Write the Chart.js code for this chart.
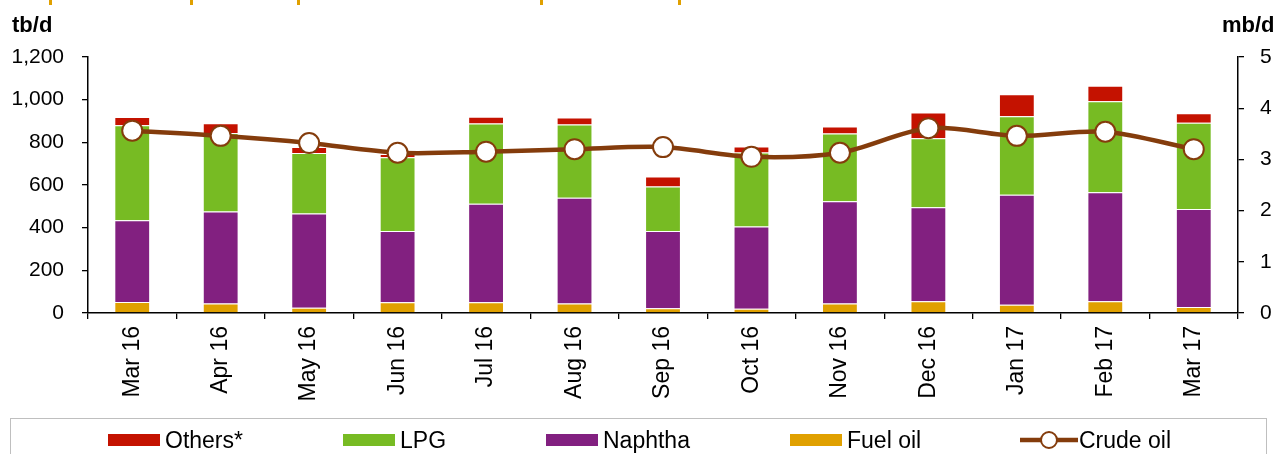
<!DOCTYPE html>
<html>
<head>
<meta charset="utf-8">
<script src="https://cdn.jsdelivr.net/npm/chart.js@4.4.1/dist/chart.umd.min.js"></script>
<style>
  html, body { margin:0; padding:0; background:#fff; }
  #wrap { position:relative; width:1279px; height:454px; overflow:hidden; font-family:"Liberation Sans", Arial, sans-serif; }
  canvas { position:absolute; left:0; top:0; }
  .unit { position:absolute; font-weight:bold; font-size:22px; color:#000; line-height:22px; }
  .topmark { position:absolute; top:0; width:3px; height:5px; background:#E0A000; }
  #legend { position:absolute; left:10px; top:418px; width:1257px; height:60px; border:1px solid #BFBFBF; box-sizing:border-box; }
  .li { position:absolute; top:8px; height:26px; font-size:23px; line-height:26px; color:#000; white-space:nowrap; }
  .sw { position:absolute; top:7px; width:52px; height:12px; }
  .lt { position:absolute; top:0; }
</style>
</head>
<body>
<div id="wrap">
  <canvas id="c" width="1279" height="454"></canvas>
  <div class="unit" style="left:12px; top:14px;">tb/d</div>
  <div class="unit" style="left:1222px; top:14px;">mb/d</div>
  <div class="topmark" style="left:49px"></div>
  <div class="topmark" style="left:190px"></div>
  <div class="topmark" style="left:297px"></div>
  <div class="topmark" style="left:540px"></div>
  <div class="topmark" style="left:678px"></div>
  <div id="legend"></div>
</div>
<script>
// ---- data ----
const categories = ["Mar 16","Apr 16","May 16","Jun 16","Jul 16","Aug 16","Sep 16","Oct 16","Nov 16","Dec 16","Jan 17","Feb 17","Mar 17"];
const fuelOil  = [51, 44, 25, 50, 50, 44, 22, 20, 44, 55, 39, 55, 28];
const naphtha  = [384, 432, 441, 334, 462, 496, 362, 386, 480, 441, 515, 511, 460];
const lpg      = [445, 368, 284, 346, 376, 344, 209, 346, 317, 323, 368, 426, 404];
const others   = [39, 45, 28, 15, 32, 32, 47, 28, 33, 121, 103, 73, 44];
const crudeOil = [3.56, 3.46, 3.32, 3.13, 3.15, 3.20, 3.24, 3.05, 3.13, 3.61, 3.46, 3.54, 3.20];
const leftTicks  = [0, 200, 400, 600, 800, 1000, 1200];
const rightTicks = [0, 1, 2, 3, 4, 5];
const seriesNames = ["Others*", "LPG", "Naphtha", "Fuel oil", "Crude oil"];

const COL = { others:"#C41200", lpg:"#77BB23", naphtha:"#822080", fuel:"#E0A000", crude:"#843C0C" };
const FONT = "'Liberation Sans', Arial, sans-serif";

const barCommon = { stack:"s", yAxisID:"y", barPercentage:0.405, categoryPercentage:1.0, borderWidth:1, borderColor:"rgba(255,255,255,0.45)", order:2 };

new Chart(document.getElementById("c"), {
  data: {
    labels: categories,
    datasets: [
      Object.assign({ type:"bar", label:seriesNames[3], data:fuelOil, backgroundColor:COL.fuel }, barCommon),
      Object.assign({ type:"bar", label:seriesNames[2], data:naphtha, backgroundColor:COL.naphtha }, barCommon),
      Object.assign({ type:"bar", label:seriesNames[1], data:lpg, backgroundColor:COL.lpg }, barCommon),
      Object.assign({ type:"bar", label:seriesNames[0], data:others, backgroundColor:COL.others }, barCommon),
      { type:"line", label:seriesNames[4], data:crudeOil, yAxisID:"y1", order:0,
        borderColor:COL.crude, borderWidth:4.5, tension:0.3,
        pointRadius:10, pointBorderWidth:2, pointBackgroundColor:"#fff", pointBorderColor:COL.crude }
    ]
  },
  options: {
    responsive:false, animation:false,
    layout:{ padding:{ top:57, left:0, right:0, bottom:0 } },
    plugins:{ legend:{ display:false }, tooltip:{ enabled:false } },
    scales:{
      x:{
        stacked:true,
        grid:{ display:true, drawOnChartArea:false, drawTicks:true, tickLength:6, offset:true, color:"#000", lineWidth:1.3 },
        border:{ display:true, color:"#000", width:1.5 },
        ticks:{ autoSkip:false, maxRotation:90, minRotation:90, padding:7, color:"#000", font:{ family:FONT, size:23 } },
        afterFit:(s)=>{ s.height = 141; }
      },
      y:{
        position:"left", stacked:true, min:0, max:1200,
        afterBuildTicks:(s)=>{ s.ticks = leftTicks.map(v=>({value:v})); },
        grid:{ display:true, drawOnChartArea:false, drawTicks:true, tickLength:6, color:"#000", lineWidth:1.3 },
        border:{ display:true, color:"#000", width:1.5 },
        ticks:{ padding:18, color:"#000", font:{ family:FONT, size:21 }, callback:(v)=>Number(v).toLocaleString("en-US") },
        afterFit:(s)=>{ s.width = 88; }
      },
      y1:{
        position:"right", min:0, max:5,
        afterBuildTicks:(s)=>{ s.ticks = rightTicks.map(v=>({value:v})); },
        grid:{ display:true, drawOnChartArea:false, drawTicks:true, tickLength:6, color:"#000", lineWidth:1.3 },
        border:{ display:true, color:"#000", width:1.5 },
        ticks:{ padding:16, color:"#000", font:{ family:FONT, size:21 } },
        afterFit:(s)=>{ s.width = 41; }
      }
    }
  }
});

// ---- legend (HTML) ----
const legendItems = [
  { name:seriesNames[0], color:COL.others, x:97 },
  { name:seriesNames[1], color:COL.lpg, x:332 },
  { name:seriesNames[2], color:COL.naphtha, x:535 },
  { name:seriesNames[3], color:COL.fuel, x:779 },
  { name:seriesNames[4], color:COL.crude, x:1009, line:true }
];
const lg = document.getElementById("legend");
legendItems.forEach(it=>{
  const d = document.createElement("div");
  d.className = "li"; d.style.left = it.x + "px";
  if (it.line) {
    d.innerHTML = '<svg width="58" height="26" style="position:absolute;left:0;top:0">' +
      '<line x1="0" y1="13" x2="58" y2="13" stroke="'+it.color+'" stroke-width="4.5"/>' +
      '<circle cx="29" cy="13" r="8" fill="#fff" stroke="'+it.color+'" stroke-width="2"/></svg>' +
      '<span class="lt" style="left:59px">'+it.name+'</span>';
  } else {
    d.innerHTML = '<div class="sw" style="left:0;background:'+it.color+'"></div><span class="lt" style="left:57px">'+it.name+'</span>';
  }
  lg.appendChild(d);
});
</script>
</body>
</html>
